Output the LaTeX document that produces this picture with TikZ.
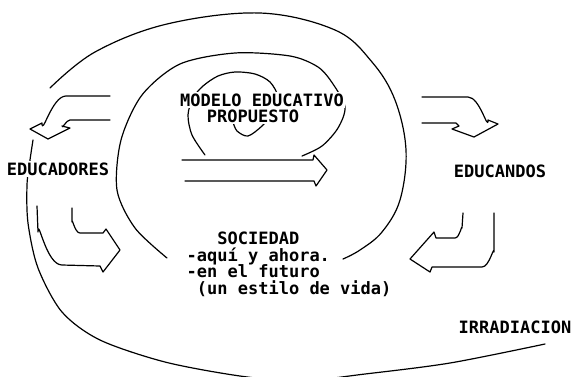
\documentclass[tikz,border=0pt]{standalone}
\usepackage{fontspec}
\usepackage{tikz}
\usetikzlibrary{positioning}
\newfontfamily\dotfont{DejaVu Sans Mono}
\tikzstyle{word} = [font=\dotfont\bfseries\fontsize{17}{16.7}\selectfont, fill=white, inner sep=1.5pt]
\tikzstyle{plainword} = [font=\dotfont\bfseries\fontsize{17}{16.7}\selectfont, inner sep=1.5pt]
\tikzstyle{sketch} = [line width=1.2pt, line join=round, line cap=round]

\begin{document}
\begin{tikzpicture}[x=1pt,y=-1pt]
        \useasboundingbox (0,0) rectangle (580,376);
        \clip (0,0) rectangle (580,376);
        % big loops
        \draw [sketch] plot[smooth, tension=0.6] coordinates {(50,88) (95,52) (167,24) (260,13) (335,30) (372,62) (395,100) (406,150) (400,200) (382,232) (360,250) (343,259)};
        \draw [sketch] plot[smooth] coordinates {(167,258) (135,228) (117,190) (121,140) (142,95) (180,64) (235,53) (290,56) (318,67) (333,84) (345,107) (338,128) (322,146) (302,156)};
        \draw [sketch] plot[smooth] coordinates {(205,155) (192,135) (188,115) (193,98) (203,86) (218,76) (235,72) (255,74) (270,82) (278,97) (273,113) (262,126) (248,136) (237,131) (233,122)};
        \draw [sketch] plot[smooth] coordinates {(33,140) (30,160) (27,185) (28,223) (38,268) (62,312) (100,340) (165,362) (240,376) (300,381) (365,374) (450,363) (545,344)};
        % block arrows
        \draw [sketch] (110,120) -- (70,120) to[out=180,in=-90] (62,126) -- (70,128) -- (48,139) -- (30,129) -- (42,123) to[out=-90,in=180] (66,96) -- (110,96);
        \draw [sketch] (422,97) -- (468,97) to[out=0,in=-90] (488,120) -- (498,124) -- (474,137) -- (452,129) -- (459,126) -- (456,123) -- (422,123);
        \draw [sketch] (182,160) -- (313,160) -- (314,155) -- (327,170) -- (316,186) -- (314,181) -- (185,181);
        \draw [sketch] (37,206) -- (38,232) to[out=90,in=180] (62,265) -- (100,266) -- (103,272) -- (120,250) -- (106,229) -- (103,233) -- (80,233) to[out=180,in=90] (72,222) -- (72,208);
        \draw [sketch] (494,213) -- (494,252) to[out=90,in=0] (482,267) -- (432,267) -- (430,272) -- (410,259) -- (434,232) -- (436,238) -- (455,238) to[out=0,in=90] (462,228) -- (463,213);
        % texts
        \node (modelo) [word] at (262,100) {MODELO EDUCATIVO};
        \node (propuesto) [word, below=0pt of modelo, xshift=-9pt] {PROPUESTO};
        \node (educadores) [word] at (58,169) {EDUCADORES};
        \node (educandos) [plainword] at (500,171) {EDUCANDOS};
        \node (sociedad) [plainword, anchor=north west, align=left] at (185,230) {\phantom{---}SOCIEDAD\\-aquí y ahora.\\-en el futuro\\\phantom{-}(un estilo de vida)};
        \node (irradiacion) [plainword] at (515,327) {IRRADIACION};
\end{tikzpicture}
\end{document}
